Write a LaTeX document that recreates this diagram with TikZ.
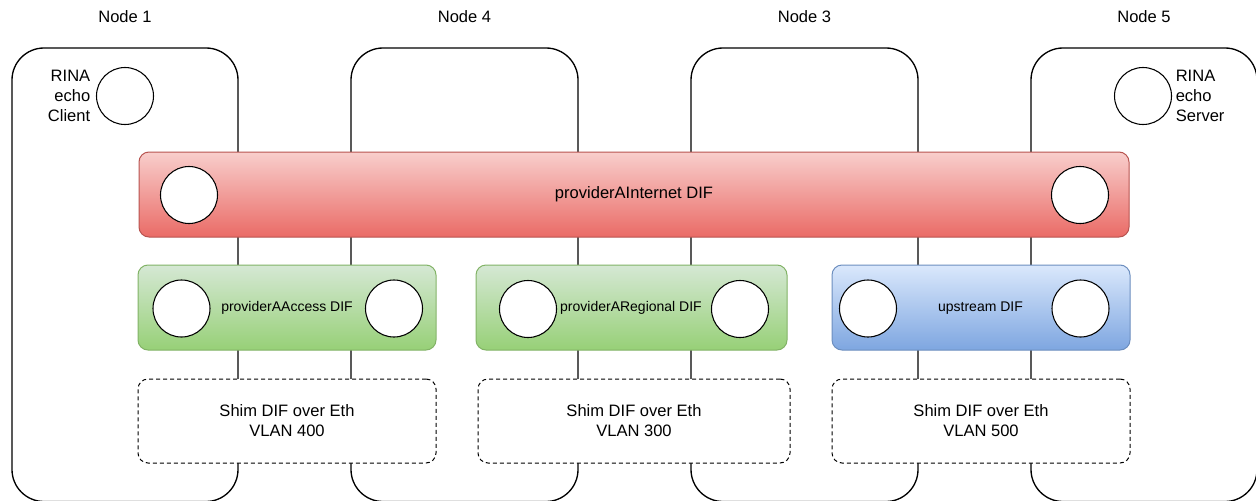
\documentclass[tikz,border=0pt]{standalone}
\usepackage{fontspec}
\setmainfont{Liberation Sans}
\definecolor{redtop}{HTML}{F8CECC}
\definecolor{redbot}{HTML}{EA6B66}
\definecolor{redline}{HTML}{B85450}
\definecolor{greentop}{HTML}{D5E8D4}
\definecolor{greenbot}{HTML}{97D077}
\definecolor{greenline}{HTML}{82B366}
\definecolor{bluetop}{HTML}{DAE8FC}
\definecolor{bluebot}{HTML}{7EA6E0}
\definecolor{blueline}{HTML}{6C8EBF}
\begin{document}
\begin{tikzpicture}[x=0.75pt,y=-0.75pt,
  bigtext/.style={font=\fontsize{12.4}{15}\selectfont},
  smalltext/.style={font=\fontsize{10.5}{13}\selectfont},
  nodebox/.style={draw, line width=1pt, rounded corners=24pt, fill=white,
    minimum height=453.5*0.75pt, inner sep=0pt},
  bar/.style={line width=0.75pt, rounded corners=7.5pt, inner sep=0pt,
    minimum height=85*0.75pt},
  redbar/.style={bar, draw=redline, top color=redtop, bottom color=redbot},
  greenbar/.style={bar, draw=greenline, top color=greentop, bottom color=greenbot},
  bluebar/.style={bar, draw=blueline, top color=bluetop, bottom color=bluebot},
  port/.style={circle, draw, fill=white, line width=0.8pt,
    minimum size=57*0.75pt, inner sep=0pt},
  shim/.style={draw, dash pattern=on 3pt off 2.25pt, fill=white, line width=0.75pt,
    rounded corners=7.5pt, align=center, inner sep=0pt, bigtext,
    minimum height=84*0.75pt},
  caption/.style={bigtext, inner sep=0pt}]

% canvas
\useasboundingbox (0,0) rectangle (1256,500);
\fill[white] (0,0) rectangle (1256,500);

% physical nodes
\node[nodebox, minimum width=226*0.75pt] (n1) at (125,274.75) {};
\node[nodebox, minimum width=227*0.75pt] (n4) at (464.5,274.75) {};
\node[nodebox, minimum width=227*0.75pt] (n3) at (804.5,274.75) {};
\node[nodebox, minimum width=226*0.75pt] (n5) at (1144,274.75) {};

\node[caption] (l1) at (125,17) {Node 1};
\node[caption] (l4) at (464.5,17) {Node 4};
\node[caption] (l3) at (804.5,17) {Node 3};
\node[caption] (l5) at (1144,17) {Node 5};

% applications
\node[port] (client) at (125,96) {};
\node[caption, align=right, anchor=east] (clientlbl) at (90.5,96) {RINA\\echo\\Client};
\node[port] (server) at (1143,96) {};
\node[caption, align=left, anchor=west] (serverlbl) at (1175.5,96) {RINA\\echo\\Server};

% top-level DIF
\node[redbar, minimum width=990*0.75pt] (inet) at (634,194.5) {};
\node[bigtext] (inetlbl) at (634,194.5) {providerAInternet DIF};
\node[port] (inetA) at (189,195) {};
\node[port] (inetB) at (1080,195) {};

% intermediate DIFs
\node[greenbar, minimum width=298*0.75pt] (access) at (287,307.5) {};
\node[smalltext] (accesslbl) at (287,308) {providerAAccess DIF};
\node[port] (accessA) at (181.5,308.5) {};
\node[port] (accessB) at (394,308.5) {};

\node[greenbar, minimum width=311*0.75pt] (regional) at (631.5,307.5) {};
\node[smalltext] (regionallbl) at (631,308) {providerARegional DIF};
\node[port] (regionalA) at (528,309) {};
\node[port] (regionalB) at (740,309) {};

\node[bluebar, minimum width=298*0.75pt] (upstream) at (981,307.5) {};
\node[smalltext] (upstreamlbl) at (980.5,308) {upstream DIF};
\node[port] (upstreamA) at (868,308.5) {};
\node[port] (upstreamB) at (1080.5,308.5) {};

% shim DIFs
\node[shim, minimum width=298*0.75pt] (shim400) at (287,421) {Shim DIF over Eth\\VLAN 400};
\node[shim, minimum width=312*0.75pt] (shim300) at (634,421) {Shim DIF over Eth\\VLAN 300};
\node[shim, minimum width=298*0.75pt] (shim500) at (981,421) {Shim DIF over Eth\\VLAN 500};
\end{tikzpicture}
\end{document}
